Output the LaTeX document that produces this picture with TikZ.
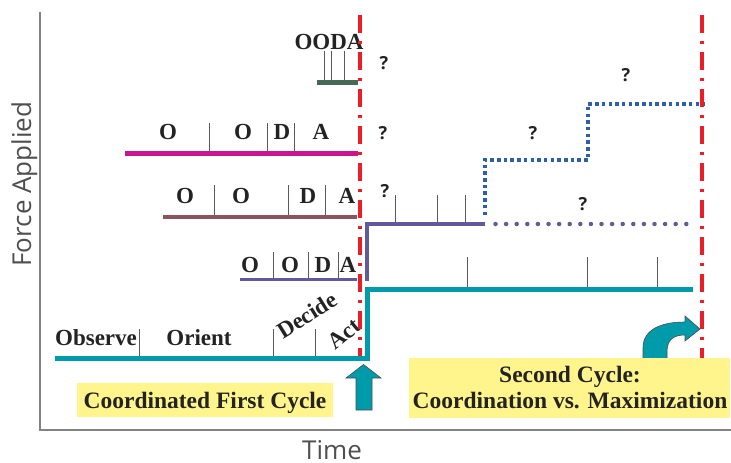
\documentclass[tikz,border=0pt]{standalone}
\usepackage{fontspec}
\setmainfont{Liberation Serif}
\setsansfont{Open Sans}
\definecolor{teal1}{RGB}{0,155,170}
\definecolor{mag1}{RGB}{200,22,140}
\definecolor{brown1}{RGB}{135,85,90}
\definecolor{purp1}{RGB}{95,90,155}
\definecolor{green1}{RGB}{70,105,85}
\definecolor{blue1}{RGB}{45,95,170}
\definecolor{red1}{RGB}{235,30,40}
\definecolor{yel1}{RGB}{255,245,140}
\definecolor{axis1}{RGB}{130,130,130}
\definecolor{tick1}{RGB}{90,90,90}
\definecolor{txt1}{RGB}{35,35,35}
\tikzset{
  redline/.style={draw=red1,line width=4pt,dash pattern=on 18pt off 8pt on 3pt off 8pt},
  tickln/.style={draw=tick1,line width=1pt},
  lab/.style={font=\bfseries\fontsize{23}{25}\selectfont,text=txt1,inner sep=0pt,anchor=base},
  boxlab/.style={font=\bfseries\fontsize{23.5}{25}\selectfont,text=txt1,inner sep=0pt,anchor=base},
  qm/.style={font=\sffamily\bfseries\fontsize{18}{20}\selectfont,text=txt1,inner sep=0pt,anchor=base},
  axlab/.style={font=\sffamily\fontsize{26}{28}\selectfont,text=txt1!80!white,inner sep=0pt},
  ybox/.style={fill=yel1,draw=none},
  tarrow/.style={fill=teal1,draw=black!70,line width=0.6pt}
}
\begin{document}
\begin{tikzpicture}[x=1pt,y=-1pt]
\useasboundingbox (0,0) rectangle (731,463);
% axes
\coordinate (ytop) at (40,12);
\coordinate (orig) at (40,430);
\coordinate (xend) at (731,430);
\draw[axis1,line width=1.5pt] (ytop) -- (orig) -- (xend);
\node[axlab,rotate=90,anchor=base] (ylab) at (31,184) {Force Applied};
\node[axlab,anchor=base] (xlab) at (332,459) {Time};

% teal main line
\coordinate (t0) at (55,358);
\coordinate (t1) at (367.5,358);
\coordinate (t2) at (367.5,289);
\coordinate (t3) at (693,289);
\draw[teal1,line width=5pt] (t0) -- (t1) -- (t2) -- (t3);
\foreach \x in {139,273,315} \draw[tickln] (\x,329) -- (\x,355.5);
\foreach \x in {467,587,657} \draw[tickln] (\x,257) -- (\x,286.5);
\node[lab] (obs) at (96,345) {Observe};
\node[lab] (ori) at (199,345) {Orient};
\node[lab,anchor=center,rotate=32] (dec) at (307,315) {Decide};
\node[lab,anchor=center,rotate=40] (act) at (344,334) {Act};

% purple line
\coordinate (p0) at (240,279);
\coordinate (p1) at (367,279);
\coordinate (p2) at (367,224);
\coordinate (p3) at (485,224);
\coordinate (p4) at (690,224);
\draw[purp1,line width=3pt] (p0) -- (357,279);
\draw[purp1,line width=3.5pt] (367,281) -- (p2) -- (p3);
\foreach \x in {273,308,338} \draw[tickln] (\x,252) -- (\x,277.5);
\foreach \x in {395,437,465} \draw[tickln] (\x,195) -- (\x,222);
\node[lab] at (250,272) {O};
\node[lab] at (290,272) {O};
\node[lab] at (323,272) {D};
\node[lab] at (348,272) {A};
\draw[purp1,line width=4.5pt,line cap=round,dash pattern=on 0pt off 10.6pt] (495.5,224) -- (p4);
% blue dotted
\coordinate (b0) at (485,215);
\coordinate (b1) at (485,160);
\coordinate (b2) at (588,160);
\coordinate (b3) at (588,104);
\coordinate (b4) at (705,104);
\draw[blue1,line width=3.5pt,dash pattern=on 3.5pt off 3.2pt] (b0) -- (b1) -- (b2) -- (b3) -- (b4);

% brown line
\coordinate (r0) at (163,217);
\coordinate (r1) at (357,217);
\draw[brown1,line width=4pt] (r0) -- (r1);
\foreach \x in {214,288,325} \draw[tickln] (\x,185) -- (\x,215);
\node[lab] at (185,203) {O};
\node[lab] at (241,203) {O};
\node[lab] at (308,203) {D};
\node[lab] at (347,203) {A};

% magenta line
\coordinate (m0) at (125,153);
\coordinate (m1) at (358,153);
\draw[mag1,line width=5pt] (m0) -- (m1);
\foreach \x in {209,267,294} \draw[tickln] (\x,123) -- (\x,150.5);
\node[lab] at (168,139) {O};
\node[lab] at (243,139) {O};
\node[lab] at (282,139) {D};
\node[lab] at (321,139) {A};

% green line
\coordinate (g0) at (317,82);
\coordinate (g1) at (358,82);
\draw[green1,line width=5pt] (g0) -- (g1);
\foreach \x in {324,331,344} \draw[tickln] (\x,51) -- (\x,79.5);
\node[lab] (ooda) at (329,49) {OODA};

% question marks
\node[qm] at (384,69) {?};
\node[qm] at (383,139) {?};
\node[qm] at (533,139) {?};
\node[qm] at (626,81) {?};
\node[qm] at (385,197) {?};
\node[qm] at (583,210) {?};

% red dash-dot lines
\coordinate (rl0) at (360,15);
\coordinate (rl1) at (360,356);
\coordinate (rr0) at (702,15);
\coordinate (rr1) at (702,380);
\draw[redline] (rl0) -- (rl1);
\draw[redline] (rr0) -- (rr1);

% teal up arrow
\draw[tarrow] (356,410) -- (356,378) -- (346,378) -- (363.5,364.5) -- (381,378) -- (372,378) -- (372,410) -- cycle;
% curved arrow
\draw[tarrow] (643,370) -- (643,348) .. controls (643,330) and (660,322) .. (685,322)
  -- (685,316) -- (700,329) -- (685,341) -- (685,335)
  .. controls (673,335) and (667,340) .. (667,352) -- (667,370) -- cycle;

% yellow boxes
\fill[ybox] (77,383) rectangle (333,417);
\node[boxlab] (c1) at (205,408) {Coordinated First Cycle};
\fill[ybox] (409,358) rectangle (730,418);
\node[boxlab] (c2a) at (570,382) {Second Cycle:};
\node[boxlab] (c2b) at (570,408) {Coordination vs. Maximization};
\end{tikzpicture}
\end{document}
